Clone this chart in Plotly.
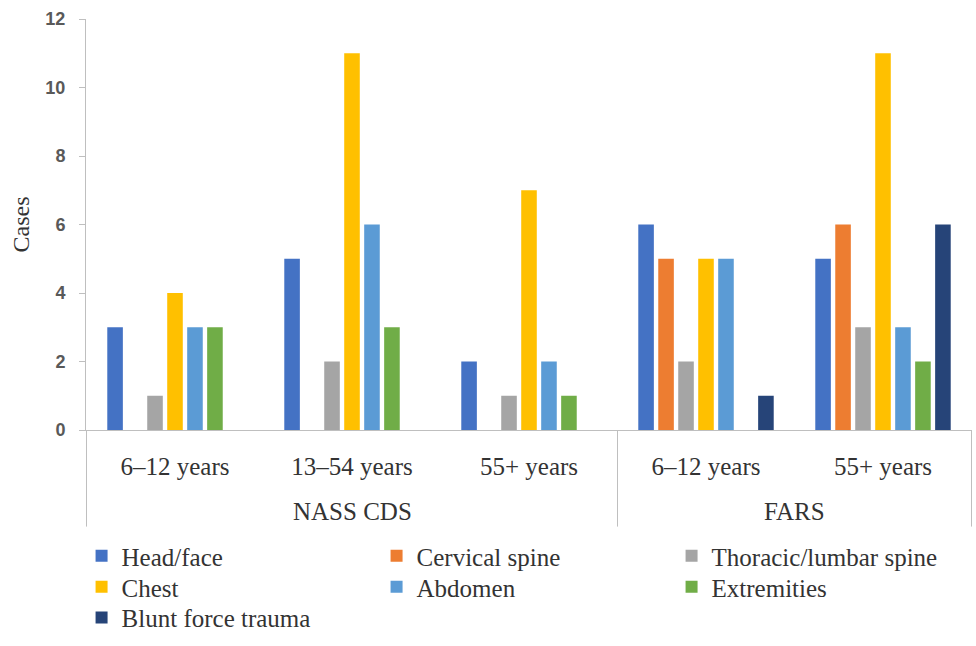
import plotly.graph_objects as go

# Source databases and age groups
databases = ["NASS CDS", "NASS CDS", "NASS CDS", "FARS", "FARS"]
age_groups = ["6–12 years", "13–54 years", "55+ years", "6–12 years", "55+ years"]

# Injury region case counts per age group
head_face = [3, 5, 2, 6, 5]
cervical_spine = [0, 0, 0, 5, 6]
thoracic_lumbar = [1, 2, 1, 2, 3]
chest = [4, 11, 7, 5, 11]
abdomen = [3, 6, 2, 5, 3]
extremities = [3, 3, 1, 0, 2]
blunt_force = [0, 0, 0, 1, 6]

series = [
    ("Head/face", head_face, "#4472C4", "legend"),
    ("Cervical spine", cervical_spine, "#ED7D31", "legend"),
    ("Thoracic/lumbar spine", thoracic_lumbar, "#A5A5A5", "legend"),
    ("Chest", chest, "#FFC000", "legend2"),
    ("Abdomen", abdomen, "#5B9BD5", "legend2"),
    ("Extremities", extremities, "#70AD47", "legend2"),
    ("Blunt force trauma", blunt_force, "#264478", "legend3"),
]

serif = "Liberation Serif, Times New Roman, serif"
text_color = "#333333"
axis_color = "#BFBFBF"

# One category per (database, age group) pair; the age group is the tick text
keys = [f"{d}|{a}" for d, a in zip(databases, age_groups)]

fig = go.Figure()
for name, values, color, legend in series:
    fig.add_trace(go.Bar(
        name=name,
        x=keys,
        y=values,
        marker=dict(color=color, line=dict(width=0)),
        legend=legend,
    ))

# Database labels centred under their age groups, with divider lines between them
db_order = list(dict.fromkeys(databases))
bounds = [-0.5]
for db in db_order:
    idx = [i for i, d in enumerate(databases) if d == db]
    center = sum(idx) / len(idx)
    bounds.append(idx[-1] + 0.5)
    fig.add_annotation(
        x=center, xref="x", y=0, yref="paper",
        yanchor="middle", yshift=-81, showarrow=False,
        text=db, font=dict(family=serif, size=25, color=text_color),
    )
for b in bounds:
    fig.add_shape(
        type="line", xref="x", yref="paper",
        x0=b, x1=b, y0=0, y1=-0.235,
        line=dict(color=axis_color, width=1),
    )

legend_common = dict(
    orientation="h",
    xanchor="left",
    yanchor="middle",
    entrywidth=250,
    font=dict(family=serif, size=25, color=text_color),
    bgcolor="rgba(0,0,0,0)",
    itemclick=False,
)

fig.update_layout(
    width=976,
    height=646,
    margin=dict(l=86, r=4, t=19, b=216),
    paper_bgcolor="white",
    plot_bgcolor="white",
    barmode="group",
    bargap=0.21,
    bargroupgap=0.22,
    showlegend=True,
    legend=dict(x=-0.005, y=-0.3066, **legend_common),
    legend2=dict(x=-0.005, y=-0.382, **legend_common),
    legend3=dict(x=-0.005, y=-0.457, **legend_common),
    xaxis=dict(
        type="category",
        automargin=False,
        tickvals=keys,
        ticktext=age_groups,
        showline=True,
        linecolor=axis_color,
        linewidth=1,
        ticks="",
        ticklabelstandoff=14,
        tickfont=dict(family=serif, size=25, color=text_color),
        showgrid=False,
    ),
    yaxis=dict(
        range=[0, 12],
        dtick=2,
        automargin=False,
        showgrid=False,
        zeroline=False,
        showline=True,
        linecolor=axis_color,
        linewidth=1,
        ticks="outside",
        ticklen=6,
        tickcolor=axis_color,
        ticklabelstandoff=10,
        tickfont=dict(family="Liberation Sans, Arial, sans-serif", size=18,
                      color="#595959", weight="bold"),
        title=dict(text="Cases", font=dict(family=serif, size=24, color=text_color),
                   standoff=8),
    ),
)

fig.write_html("out.html")
